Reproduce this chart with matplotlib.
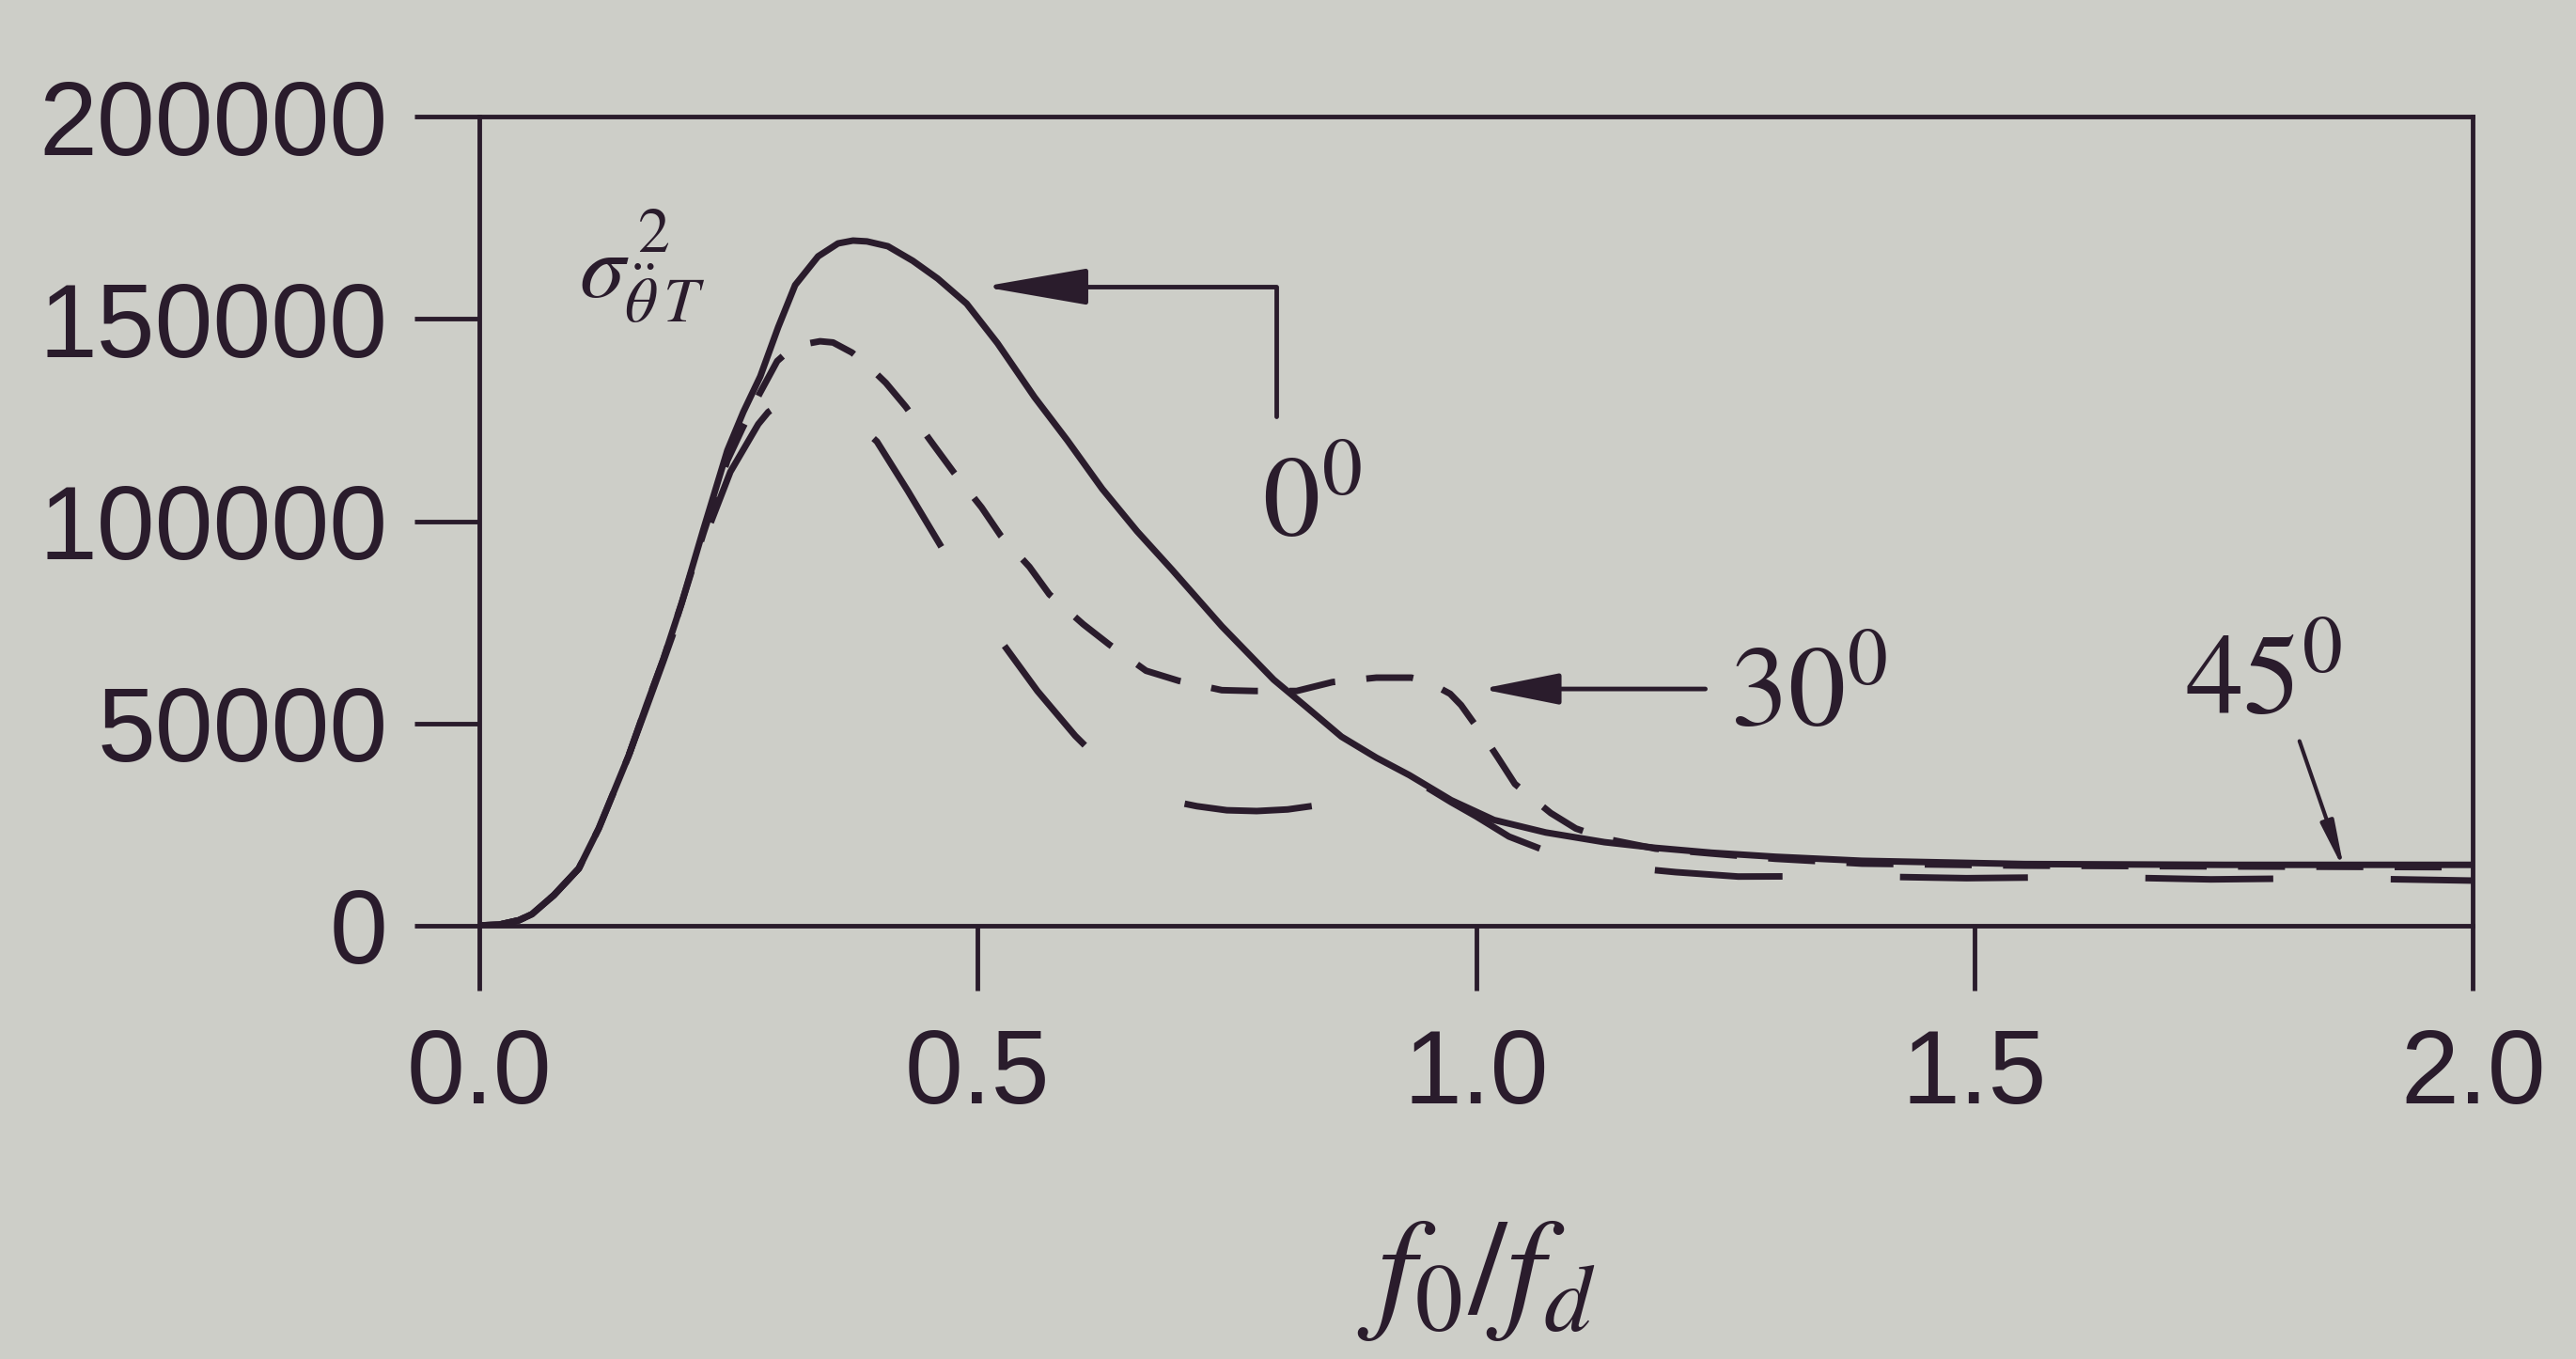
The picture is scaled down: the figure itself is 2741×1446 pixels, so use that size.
import matplotlib
matplotlib.use("Agg")
from matplotlib import pyplot as plt

# curve values (f0/fd, sigma^2)
x_0deg = [0.0, 0.02, 0.04, 0.053, 0.075, 0.10, 0.12, 0.137, 0.15, 0.168, 0.185, 0.203, 0.225,
          0.249, 0.265, 0.282, 0.30, 0.317, 0.34, 0.36, 0.375, 0.389, 0.41, 0.435, 0.46,
          0.489, 0.52, 0.557, 0.59, 0.625, 0.66, 0.695, 0.745, 0.797, 0.83, 0.865, 0.90,
          0.933, 0.975, 1.018, 1.07, 1.129, 1.18, 1.236, 1.3, 1.387, 1.55, 1.75, 2.0]
y_0deg = [0, 200, 1300, 2800, 7500, 14100, 24000, 34200, 42000, 54600, 66000, 79600, 98000,
          117500, 127000, 135800, 148000, 158400, 165500, 168700, 169400, 169200, 168000,
          164400, 160000, 153800, 144000, 130700, 120000, 108000, 97500, 88000, 74000, 60800,
          54000, 46700, 41500, 37200, 31000, 26100, 23000, 20600, 19200, 18000, 17000, 16000,
          15200, 15000, 15000]

x_30deg = [0.0, 0.02, 0.04, 0.053, 0.075, 0.10, 0.12, 0.137, 0.15, 0.168, 0.185, 0.203, 0.225,
           0.249, 0.264, 0.281, 0.299, 0.31, 0.32, 0.342, 0.355, 0.374, 0.39, 0.408, 0.428,
           0.456, 0.476, 0.504, 0.523, 0.552, 0.572, 0.606, 0.632, 0.669, 0.702, 0.745, 0.778,
           0.820, 0.856, 0.900, 0.935, 0.95, 0.974, 0.985, 0.996, 1.01, 1.022, 1.039, 1.075,
           1.1, 1.129, 1.18, 1.236, 1.3, 1.387, 1.55, 1.75, 2.0]
y_30deg = [0, 200, 1300, 2800, 7500, 14100, 24000, 34200, 42000, 54600, 66000, 79600, 97000,
           115000, 122900, 131400, 139600, 142000, 143500, 144500, 144200, 141700, 138500,
           134200, 128300, 118800, 112100, 103400, 96500, 88700, 81900, 74500, 69500, 63000,
           60500, 58200, 58000, 58000, 60200, 61300, 61300, 60500, 57300, 54500, 50700, 46000,
           41500, 35000, 27800, 24000, 21500, 19000, 17800, 16500, 15300, 14800, 14600, 14400]

x_45deg = [0.0, 0.02, 0.04, 0.053, 0.075, 0.10, 0.12, 0.137, 0.15, 0.168, 0.185, 0.203, 0.225,
           0.252, 0.28, 0.29, 0.303, 0.315, 0.33, 0.345, 0.36, 0.38, 0.399, 0.43, 0.464, 0.523,
           0.56, 0.598, 0.62, 0.65, 0.692, 0.72, 0.75, 0.78, 0.811, 0.84, 0.87, 0.895, 0.924,
           0.951, 0.975, 1.0, 1.033, 1.08, 1.1, 1.14, 1.2, 1.263, 1.373, 1.492, 1.616, 1.737,
           1.857, 2.0]
y_45deg = [0, 200, 1300, 2800, 7500, 14100, 24000, 34000, 42000, 54000, 65500, 78000, 95000,
           112200, 124000, 127000, 129100, 130000, 130000, 129000, 127000, 124000, 119700,
           107500, 93500, 70500, 58000, 46900, 41500, 36000, 30900, 29500, 28500, 28300, 28700,
           29700, 31000, 32000, 33200, 34100, 30500, 27000, 22000, 17500, 16300, 14600, 13200,
           12100, 12200, 11700, 12000, 11400, 11700, 11100]

x_ticks = [0.0, 0.5, 1.0, 1.5, 2.0]
x_ticklabels = ["0.0", "0.5", "1.0", "1.5", "2.0"]
y_ticks = [0, 50000, 100000, 150000, 200000]
y_ticklabels = ["0", "50000", "100000", "150000", "200000"]

bg = "#cdcec8"
ink = "#2a1c2c"

plt.rcParams["font.family"] = ["Liberation Sans", "DejaVu Sans"]
plt.rcParams["mathtext.fontset"] = "stix"
plt.rcParams["lines.scale_dashes"] = False

fig = plt.figure(figsize=(27.41, 14.46), dpi=100, facecolor=bg)
ax = fig.add_axes([0.186, 0.319, 0.774, 0.595], facecolor=bg)

ax.plot(x_0deg, y_0deg, color=ink, lw=5, solid_joinstyle="round")
ax.plot(x_30deg, y_30deg, color=ink, lw=5, dashes=(36, 24), dash_joinstyle="round")
ax.plot(x_45deg, y_45deg, color=ink, lw=5, dashes=(98, 90), dash_joinstyle="round")

ax.set_xlim(0, 2.0)
ax.set_ylim(0, 200000)
ax.set_xticks(x_ticks)
ax.set_xticklabels(x_ticklabels)
ax.set_yticks(y_ticks)
ax.set_yticklabels(y_ticklabels)

for s in ax.spines.values():
    s.set_linewidth(3.5)
    s.set_color(ink)
ax.tick_params(axis="both", direction="out", length=50, width=3.5, colors=ink,
               labelsize=80, labelcolor=ink)
ax.tick_params(axis="y", pad=20)
ax.tick_params(axis="x", pad=28)

ax.set_xlabel(r"$f_0/f_d$", fontsize=104, color=ink, labelpad=70)

# quantity label
ax.text(0.10, 163000, r"$\sigma^{\,2}_{\ddot{\theta}\,T}$", fontsize=70, color=ink,
        ha="left", va="center")

# 0 deg pointer
ax.annotate("", xy=(0.505, 158000), xytext=(0.80, 126000),
            arrowprops=dict(arrowstyle="-|>,head_length=1.15,head_width=0.2",
                            connectionstyle="angle,angleA=90,angleB=0,rad=0",
                            color=ink, lw=3.5, mutation_scale=60, shrinkA=0, shrinkB=0))
ax.text(0.835, 104000, r"$0^0$", fontsize=88, color=ink, ha="center", va="center")

# 30 deg pointer
ax.annotate("", xy=(1.005, 58500), xytext=(1.23, 58500),
            arrowprops=dict(arrowstyle="-|>,head_length=0.85,head_width=0.17",
                            color=ink, lw=3.5, mutation_scale=60, shrinkA=0, shrinkB=0))
ax.text(1.255, 57000, r"$30^0$", fontsize=88, color=ink, ha="left", va="center")

# 45 deg pointer
ax.annotate("", xy=(1.871, 13500), xytext=(1.826, 45600),
            arrowprops=dict(arrowstyle="-|>,head_length=0.5,head_width=0.07",
                            color=ink, lw=3, mutation_scale=60, shrinkA=0, shrinkB=0))
ax.text(1.79, 60000, r"$45^0$", fontsize=88, color=ink, ha="center", va="center")

fig.savefig("out.png", dpi=100, facecolor=bg)
